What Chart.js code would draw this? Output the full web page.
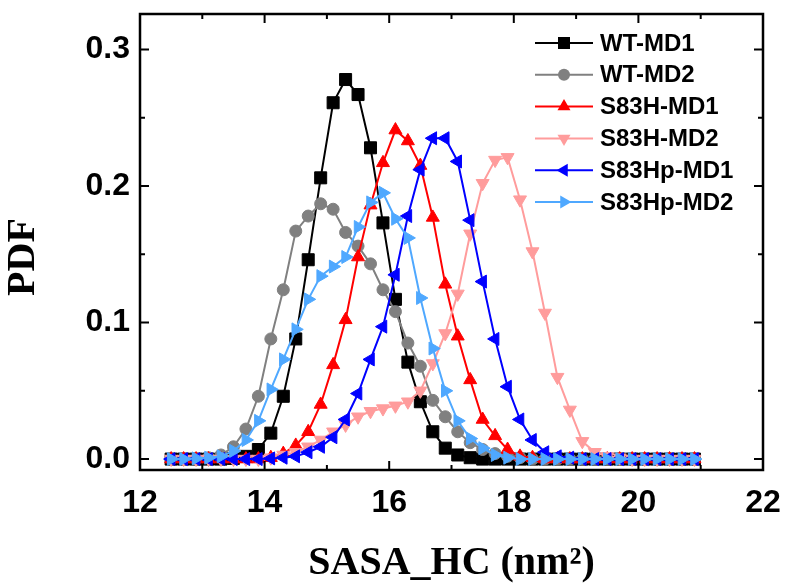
<!DOCTYPE html>
<html>
<head>
<meta charset="utf-8">
<script src="https://cdn.jsdelivr.net/npm/chart.js@4.4.1/dist/chart.umd.min.js"></script>
<style>
html, body { margin: 0; padding: 0; background: #fff; }
canvas { display: block; }
</style>
</head>
<body>
<canvas id="pdfChart" width="787" height="587"></canvas>
<script>
// SASA of the hydrophobic core, bin centres (nm^2)
const sasa = [12.5, 12.7, 12.9, 13.1, 13.3, 13.5, 13.7, 13.9, 14.1, 14.3,
              14.5, 14.7, 14.9, 15.1, 15.3, 15.5, 15.7, 15.9, 16.1, 16.3,
              16.5, 16.7, 16.9, 17.1, 17.3, 17.5, 17.7, 17.9, 18.1, 18.3,
              18.5, 18.7, 18.9, 19.1, 19.3, 19.5, 19.7, 19.9, 20.1, 20.3,
              20.5, 20.7, 20.9];

const wtMd1 = [0, 0, 0, 0, 0, 0.0005, 0.002, 0.007, 0.019, 0.046,
               0.088, 0.146, 0.206, 0.261, 0.278, 0.267, 0.228, 0.173, 0.117, 0.071,
               0.042, 0.020, 0.008, 0.003, 0.001, 0, 0, 0, 0, 0,
               0, 0, 0, 0, 0, 0, 0, 0, 0, 0,
               0, 0, 0];
const wtMd2 = [0, 0, 0, 0.001, 0.003, 0.009, 0.022, 0.046, 0.088, 0.124,
               0.167, 0.178, 0.187, 0.183, 0.166, 0.156, 0.143, 0.124, 0.108, 0.085,
               0.068, 0.043, 0.031, 0.020, 0.012, 0.007, 0.004, 0.002, 0.001, 0,
               0, 0, 0, 0, 0, 0, 0, 0, 0, 0,
               0, 0, 0];
const s83hMd1 = [0, 0, 0, 0, 0, 0, 0, 0, 0.001, 0.004,
                 0.010, 0.020, 0.040, 0.069, 0.102, 0.148, 0.186, 0.217, 0.241, 0.233,
                 0.215, 0.177, 0.128, 0.090, 0.058, 0.029, 0.017, 0.007, 0.002, 0.001,
                 0, 0, 0, 0, 0, 0, 0, 0, 0, 0,
                 0, 0, 0];
const s83hMd2 = [0, 0, 0, 0, 0, 0, 0, 0, 0.001, 0.003,
                 0.005, 0.009, 0.014, 0.020, 0.025, 0.031, 0.035, 0.037, 0.039, 0.042,
                 0.050, 0.070, 0.092, 0.121, 0.165, 0.202, 0.219, 0.221, 0.190, 0.152,
                 0.107, 0.060, 0.036, 0.013, 0.005, 0.002, 0.001, 0, 0, 0,
                 0, 0, 0];
const s83hpMd1 = [0, 0, 0, 0, 0, 0, 0, 0, 0.0005, 0.001,
                  0.002, 0.005, 0.009, 0.016, 0.029, 0.048, 0.073, 0.097, 0.135, 0.178,
                  0.212, 0.235, 0.235, 0.218, 0.175, 0.130, 0.088, 0.053, 0.029, 0.014,
                  0.005, 0.002, 0.001, 0, 0, 0, 0, 0, 0, 0,
                  0, 0, 0];
const s83hpMd2 = [0, 0, 0.0005, 0.001, 0.002, 0.006, 0.014, 0.028, 0.051, 0.073,
                  0.095, 0.117, 0.134, 0.141, 0.148, 0.170, 0.188, 0.195, 0.176, 0.162,
                  0.118, 0.081, 0.050, 0.028, 0.015, 0.008, 0.003, 0.001, 0, 0,
                  0, 0, 0, 0, 0, 0, 0, 0, 0, 0,
                  0, 0, 0];

const seriesNames = ["WT-MD1", "WT-MD2", "S83H-MD1", "S83H-MD2", "S83Hp-MD1", "S83Hp-MD2"];
const seriesValues = [wtMd1, wtMd2, s83hMd1, s83hMd2, s83hpMd1, s83hpMd2];

const xTicks = [12, 14, 16, 18, 20, 22];
const yTicks = [0.0, 0.1, 0.2, 0.3];

// look of each curve
const styles = [
    {color: "#000000", shape: "rect",     rot: 0,   r: 8.5},
    {color: "#808080", shape: "circle",   rot: 0,   r: 6},
    {color: "#ff0000", shape: "triangle", rot: 0,   r: 7.5},
    {color: "#ff9c9c", shape: "triangle", rot: 180, r: 7.5},
    {color: "#0000ff", shape: "triangle", rot: 270, r: 7.5},
    {color: "#4fa8ff", shape: "triangle", rot: 90,  r: 7.5}
];

const sansFont = "'Liberation Sans', Arial, sans-serif";
const serifFont = "'Liberation Serif', 'Times New Roman', serif";

function makeDataSet(){
    let dataset = [];
    for (let i = 0; i < seriesNames.length; i++) {
        let st = styles[i];
        dataset.push({
            label: seriesNames[i],
            data: sasa.map((x, j) => ({x: x, y: seriesValues[i][j]})),
            borderColor: st.color,
            backgroundColor: st.color,
            borderWidth: 2,
            pointStyle: st.shape,
            pointRotation: st.rot,
            pointRadius: st.r,
            pointBorderWidth: 1,
            pointBorderColor: st.color,
            pointBackgroundColor: st.color,
            tension: 0,
            fill: false,
            order: seriesNames.length - i
        });
    }
    return dataset;
}

// same shapes as chart.js uses, for the legend
function drawMarker(ctx, shape, rot, x, y, r){
    let rad = rot * Math.PI / 180;
    ctx.beginPath();
    if (shape == "circle") {
        ctx.arc(x, y, r, 0, Math.PI * 2);
    } else if (shape == "rect") {
        let s = Math.SQRT1_2 * r;
        ctx.rect(x - s, y - s, 2 * s, 2 * s);
    } else {
        ctx.moveTo(x + Math.sin(rad) * r, y - Math.cos(rad) * r);
        rad += 2 * Math.PI / 3;
        ctx.lineTo(x + Math.sin(rad) * r, y - Math.cos(rad) * r);
        rad += 2 * Math.PI / 3;
        ctx.lineTo(x + Math.sin(rad) * r, y - Math.cos(rad) * r);
        ctx.closePath();
    }
    ctx.fill();
}

/* frame with inward ticks, legend and axis titles */
const framePlugin = {
    id: "frame",
    afterDatasetsDraw(chart){
        const ctx = chart.ctx;
        const a = chart.chartArea;
        const xs = chart.scales.x;
        const ys = chart.scales.y;
        ctx.save();
        ctx.strokeStyle = "#000";
        ctx.lineWidth = 2.5;
        ctx.strokeRect(a.left, a.top, a.right - a.left, a.bottom - a.top);

        ctx.lineWidth = 2;
        ctx.beginPath();
        for (let v = 12; v <= 22; v += 1) {
            let px = xs.getPixelForValue(v);
            let len = (v % 2 == 0) ? 9 : 5;
            ctx.moveTo(px, a.bottom); ctx.lineTo(px, a.bottom - len);
            ctx.moveTo(px, a.top); ctx.lineTo(px, a.top + len);
        }
        for (let k = 0; k <= 6; k++) {
            let v = k * 0.05;
            let py = ys.getPixelForValue(v);
            let len = (k % 2 == 0) ? 9 : 5;
            ctx.moveTo(a.left, py); ctx.lineTo(a.left + len, py);
            ctx.moveTo(a.right, py); ctx.lineTo(a.right - len, py);
        }
        ctx.stroke();

        // legend
        ctx.font = "bold 24px " + sansFont;
        ctx.textBaseline = "middle";
        ctx.textAlign = "left";
        for (let i = 0; i < seriesNames.length; i++) {
            let st = styles[i];
            let y = 43 + i * 31.8;
            ctx.strokeStyle = st.color;
            ctx.fillStyle = st.color;
            ctx.lineWidth = 2;
            ctx.beginPath();
            ctx.moveTo(535, y); ctx.lineTo(593, y);
            ctx.stroke();
            drawMarker(ctx, st.shape, st.rot, 564, y, st.r);
            ctx.fillStyle = "#000";
            ctx.fillText(seriesNames[i], 600, y + 1);
        }

        // axis titles
        ctx.fillStyle = "#000";
        ctx.font = "bold 40px " + serifFont;
        ctx.textAlign = "center";
        ctx.textBaseline = "alphabetic";
        ctx.fillText("SASA_HC (nm\u00B2)", (a.left + a.right) / 2, 574);
        ctx.translate(34, 257);
        ctx.rotate(-Math.PI / 2);
        ctx.fillText("PDF", 0, 0);
        ctx.restore();
    }
};

let canvas = document.getElementById("pdfChart").getContext("2d");

let chart = new Chart(canvas, {
    type: "line",
    data: { datasets: makeDataSet() },
    options: {
        responsive: false,
        animation: false,
        events: [],
        layout: { padding: { left: 0, right: 24, top: 14, bottom: 0 } },
        plugins: {
            legend: { display: false },
            tooltip: { enabled: false }
        },
        scales: {
            x: {
                type: "linear",
                min: 12,
                max: 22,
                afterFit(s){
                    s.height = 117;
                    s.paddingLeft = 0;
                    s.paddingRight = 0;
                },
                afterBuildTicks(s){ s.ticks = xTicks.map(v => ({value: v})); },
                grid: { display: false, drawTicks: false },
                border: { display: false },
                ticks: {
                    padding: 14,
                    maxRotation: 0,
                    color: "#000",
                    font: { family: sansFont, size: 32, weight: "bold" },
                    callback: v => String(v)
                }
            },
            y: {
                type: "linear",
                min: -0.008,
                max: 0.326,
                afterFit(s){
                    s.width = 140;
                    s.paddingTop = 0;
                    s.paddingBottom = 0;
                },
                afterBuildTicks(s){ s.ticks = yTicks.map(v => ({value: v})); },
                grid: { display: false, drawTicks: false },
                border: { display: false },
                ticks: {
                    padding: 10,
                    color: "#000",
                    font: { family: sansFont, size: 32, weight: "bold" },
                    callback: v => v.toFixed(1)
                }
            }
        }
    },
    plugins: [framePlugin]
});
</script>
</body>
</html>
